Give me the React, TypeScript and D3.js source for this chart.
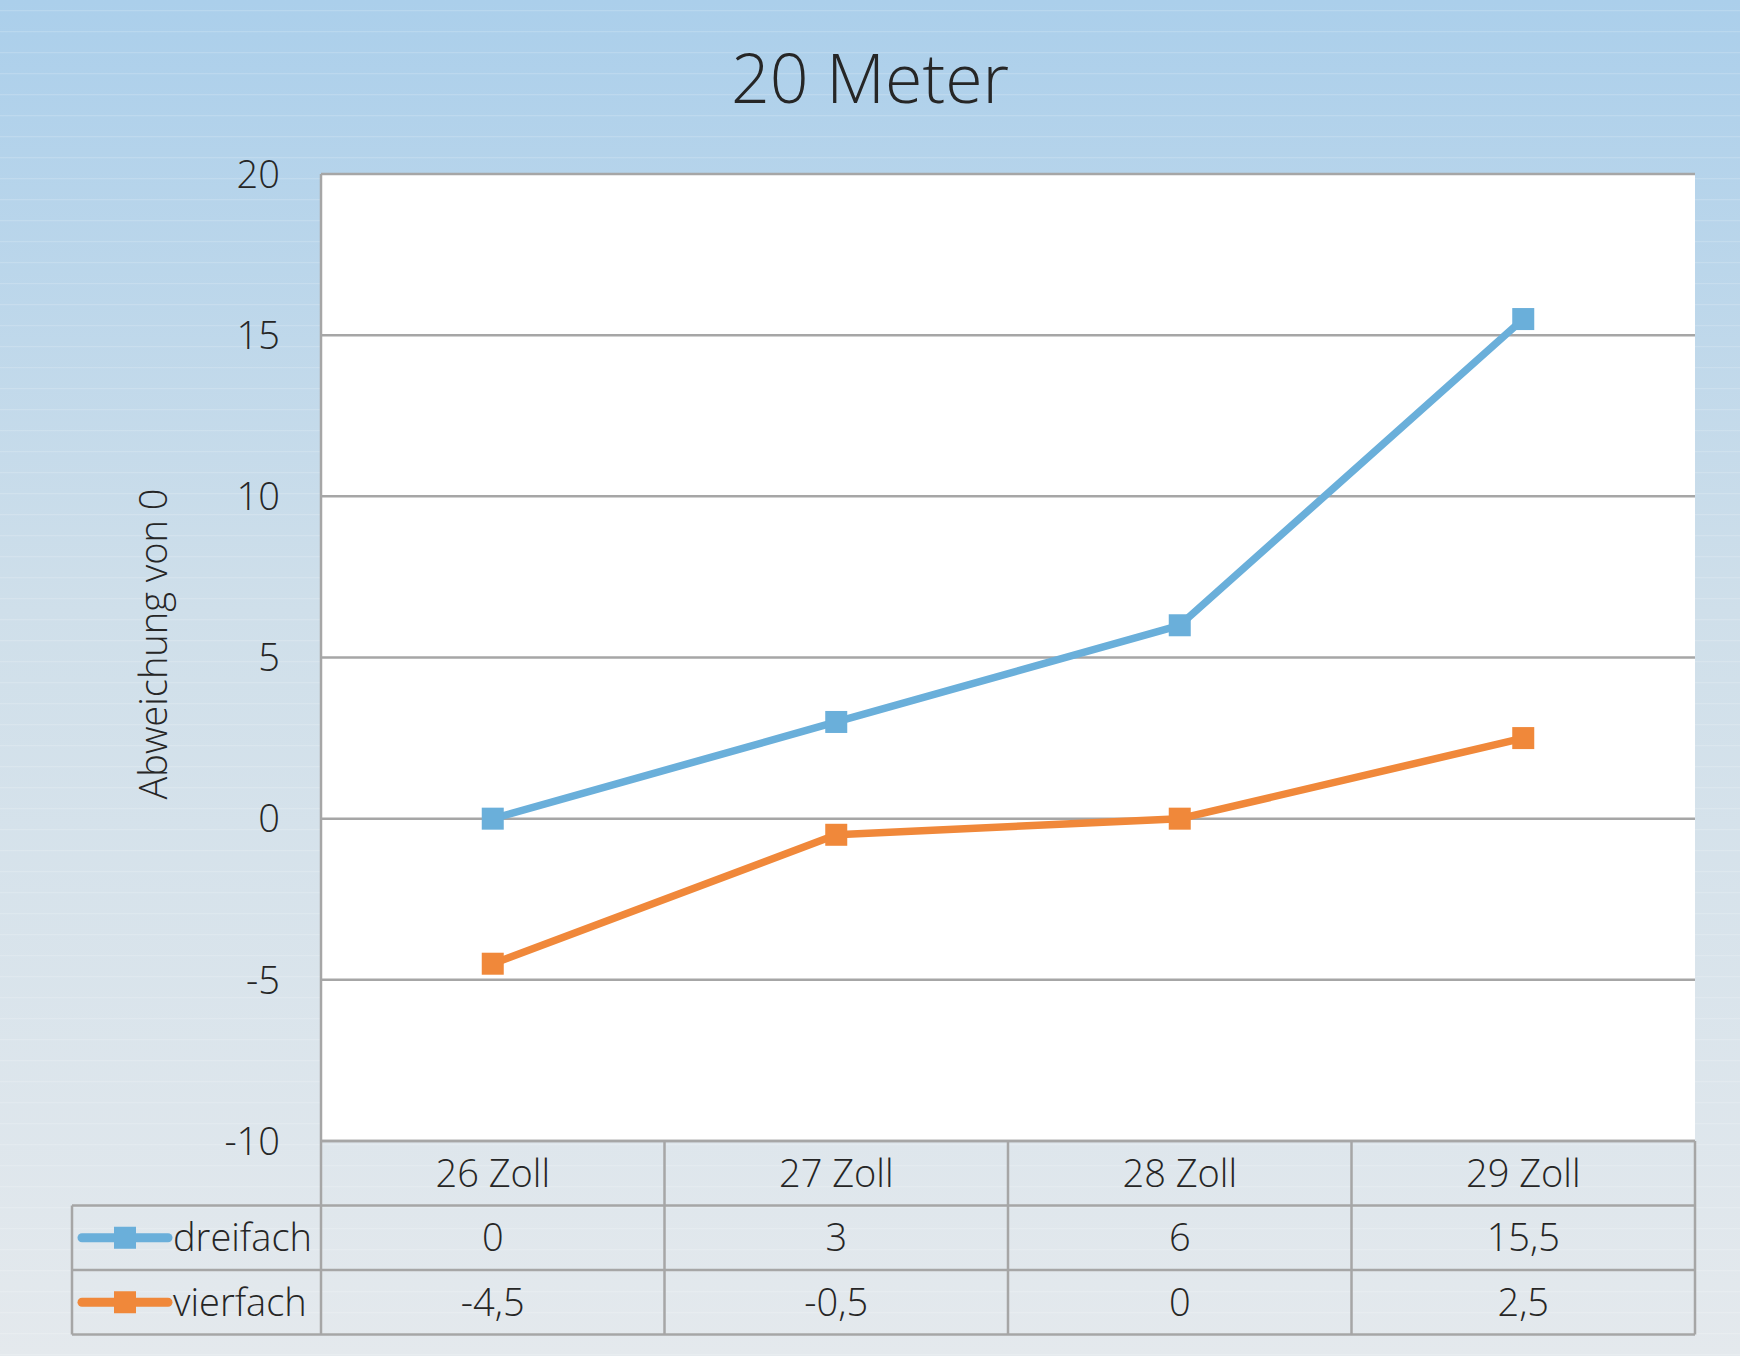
import React, { useEffect, useRef } from 'react';
import * as d3 from 'd3';

const categories = ['26 Zoll', '27 Zoll', '28 Zoll', '29 Zoll'];
const seriesNames = ['dreifach', 'vierfach'];
const dreifach = [0, 3, 6, 15.5];
const vierfach = [-4.5, -0.5, 0, 2.5];
const yTicks = [-10, -5, 0, 5, 10, 15, 20];
const seriesColors = ['#6aafda', '#f0883a'];

const W = 1740;
const H = 1356;
const FONT = "'Open Sans', Lato, 'Noto Sans', sans-serif";

export default function App() {
  const ref = useRef<SVGSVGElement>(null);

  useEffect(() => {
    if (!ref.current) return;
    const svg = d3.select(ref.current);
    svg.selectAll('*').remove();

    const margin = { left: 321, right: W - 1695, top: 174, bottom: H - 1141 };
    const rowH = 64.5;
    const legendLeft = 72;

    const x = d3.scaleBand<string>()
      .domain(categories)
      .range([margin.left, W - margin.right]);
    const y = d3.scaleLinear()
      .domain([-10, 20])
      .range([H - margin.bottom, margin.top]);

    // German number format, plain hyphen as minus
    const de = d3.formatLocale({ decimal: ',', thousands: '.', grouping: [3], currency: ['', ' €'], minus: '-' });
    const fmt = de.format('~g');

    // background
    const defs = svg.append('defs');
    const grad = defs.append('linearGradient')
      .attr('id', 'bg').attr('x1', 0).attr('y1', 0).attr('x2', 0).attr('y2', 1);
    grad.append('stop').attr('offset', '0%').attr('stop-color', '#abcfeb');
    grad.append('stop').attr('offset', '45%').attr('stop-color', '#cfdfea');
    grad.append('stop').attr('offset', '100%').attr('stop-color', '#e4e9ed');
    const pat = defs.append('pattern')
      .attr('id', 'stripes').attr('patternUnits', 'userSpaceOnUse')
      .attr('width', W).attr('height', 21);
    pat.append('rect').attr('x', 0).attr('y', 10).attr('width', W).attr('height', 1.2)
      .attr('fill', '#ffffff').attr('opacity', 0.16);

    svg.append('rect').attr('width', W).attr('height', H).attr('fill', 'url(#bg)');
    svg.append('rect').attr('width', W).attr('height', H).attr('fill', 'url(#stripes)');

    // plot area
    svg.append('rect')
      .attr('x', margin.left).attr('y', margin.top)
      .attr('width', W - margin.left - margin.right)
      .attr('height', H - margin.top - margin.bottom)
      .attr('fill', '#ffffff');

    // title
    svg.append('text')
      .attr('x', W / 2).attr('y', 103)
      .attr('text-anchor', 'middle')
      .attr('font-family', FONT).attr('font-weight', 300)
      .attr('font-size', 68).attr('fill', '#262626')
      .text('20 Meter');

    // y axis title
    svg.append('text')
      .attr('transform', 'translate(167,644) rotate(-90)')
      .attr('text-anchor', 'middle')
      .attr('font-family', FONT).attr('font-weight', 300)
      .attr('font-size', 38).attr('fill', '#262626')
      .text('Abweichung von 0');

    const gridColor = '#a6a6a6';

    // gridlines
    svg.append('g').selectAll('line')
      .data(yTicks)
      .join('line')
      .attr('x1', margin.left).attr('x2', W - margin.right)
      .attr('y1', d => y(d)).attr('y2', d => y(d))
      .attr('stroke', gridColor).attr('stroke-width', 2.5);

    // y tick labels
    svg.append('g').selectAll('text')
      .data(yTicks)
      .join('text')
      .attr('x', 280).attr('y', d => y(d))
      .attr('dy', '0.36em')
      .attr('text-anchor', 'end')
      .attr('font-family', FONT).attr('font-weight', 300)
      .attr('font-size', 38).attr('fill', '#262626')
      .text(d => fmt(d));

    // data table
    const tableTop = y(-10);
    const rowTops = [tableTop, tableTop + rowH, tableTop + 2 * rowH, tableTop + 3 * rowH];
    const table = svg.append('g').attr('stroke', gridColor).attr('stroke-width', 2.5);
    table.append('line')
      .attr('x1', margin.left).attr('x2', W - margin.right)
      .attr('y1', rowTops[0]).attr('y2', rowTops[0]);
    table.selectAll('line.h')
      .data(rowTops.slice(1))
      .join('line').attr('class', 'h')
      .attr('x1', legendLeft).attr('x2', W - margin.right)
      .attr('y1', d => d).attr('y2', d => d);
    table.append('line')
      .attr('x1', legendLeft).attr('x2', legendLeft)
      .attr('y1', rowTops[1]).attr('y2', rowTops[3]);
    table.append('line')
      .attr('x1', margin.left).attr('x2', margin.left)
      .attr('y1', margin.top).attr('y2', rowTops[3]);
    table.selectAll('line.v')
      .data(categories)
      .join('line').attr('class', 'v')
      .attr('x1', d => x(d)! + x.bandwidth()).attr('x2', d => x(d)! + x.bandwidth())
      .attr('y1', rowTops[0]).attr('y2', rowTops[3]);

    const cellText = (g: any) => g
      .attr('text-anchor', 'middle')
      .attr('dy', '0.36em')
      .attr('font-family', FONT).attr('font-weight', 300)
      .attr('font-size', 38).attr('fill', '#262626');

    svg.append('g').selectAll('text')
      .data(categories)
      .join('text')
      .attr('x', d => x(d)! + x.bandwidth() / 2)
      .attr('y', rowTops[0] + rowH / 2)
      .call(cellText)
      .text(d => d);

    const allSeries = [dreifach, vierfach];
    allSeries.forEach((vals, si) => {
      const cy = rowTops[1 + si] + rowH / 2;
      svg.append('g').selectAll('text')
        .data(vals)
        .join('text')
        .attr('x', (d, i) => x(categories[i])! + x.bandwidth() / 2)
        .attr('y', cy)
        .call(cellText)
        .text(d => fmt(d));

      // legend key
      const key = svg.append('g');
      key.append('line')
        .attr('x1', 82).attr('x2', 168).attr('y1', cy).attr('y2', cy)
        .attr('stroke', seriesColors[si]).attr('stroke-width', 9)
        .attr('stroke-linecap', 'round');
      key.append('rect')
        .attr('x', 125 - 11).attr('y', cy - 11).attr('width', 22).attr('height', 22)
        .attr('fill', seriesColors[si]);
      key.append('text')
        .attr('x', 173).attr('y', cy).attr('dy', '0.36em')
        .attr('font-family', FONT).attr('font-weight', 300)
        .attr('font-size', 38).attr('fill', '#262626')
        .text(seriesNames[si]);
    });

    // series lines
    const line = d3.line<number>()
      .x((d, i) => x(categories[i])! + x.bandwidth() / 2)
      .y(d => y(d));

    allSeries.forEach((vals, si) => {
      svg.append('path')
        .datum(vals)
        .attr('d', line)
        .attr('fill', 'none')
        .attr('stroke', seriesColors[si])
        .attr('stroke-width', 7.5)
        .attr('stroke-linejoin', 'round');
      svg.append('g').selectAll('rect')
        .data(vals)
        .join('rect')
        .attr('x', (d, i) => x(categories[i])! + x.bandwidth() / 2 - 11)
        .attr('y', d => y(d) - 11)
        .attr('width', 22).attr('height', 22)
        .attr('fill', seriesColors[si]);
    });
  }, []);

  return (
    <svg
      ref={ref}
      width={W}
      height={H}
      viewBox={`0 0 ${W} ${H}`}
      style={{ position: 'absolute', left: 0, top: 0, display: 'block' }}
    />
  );
}
